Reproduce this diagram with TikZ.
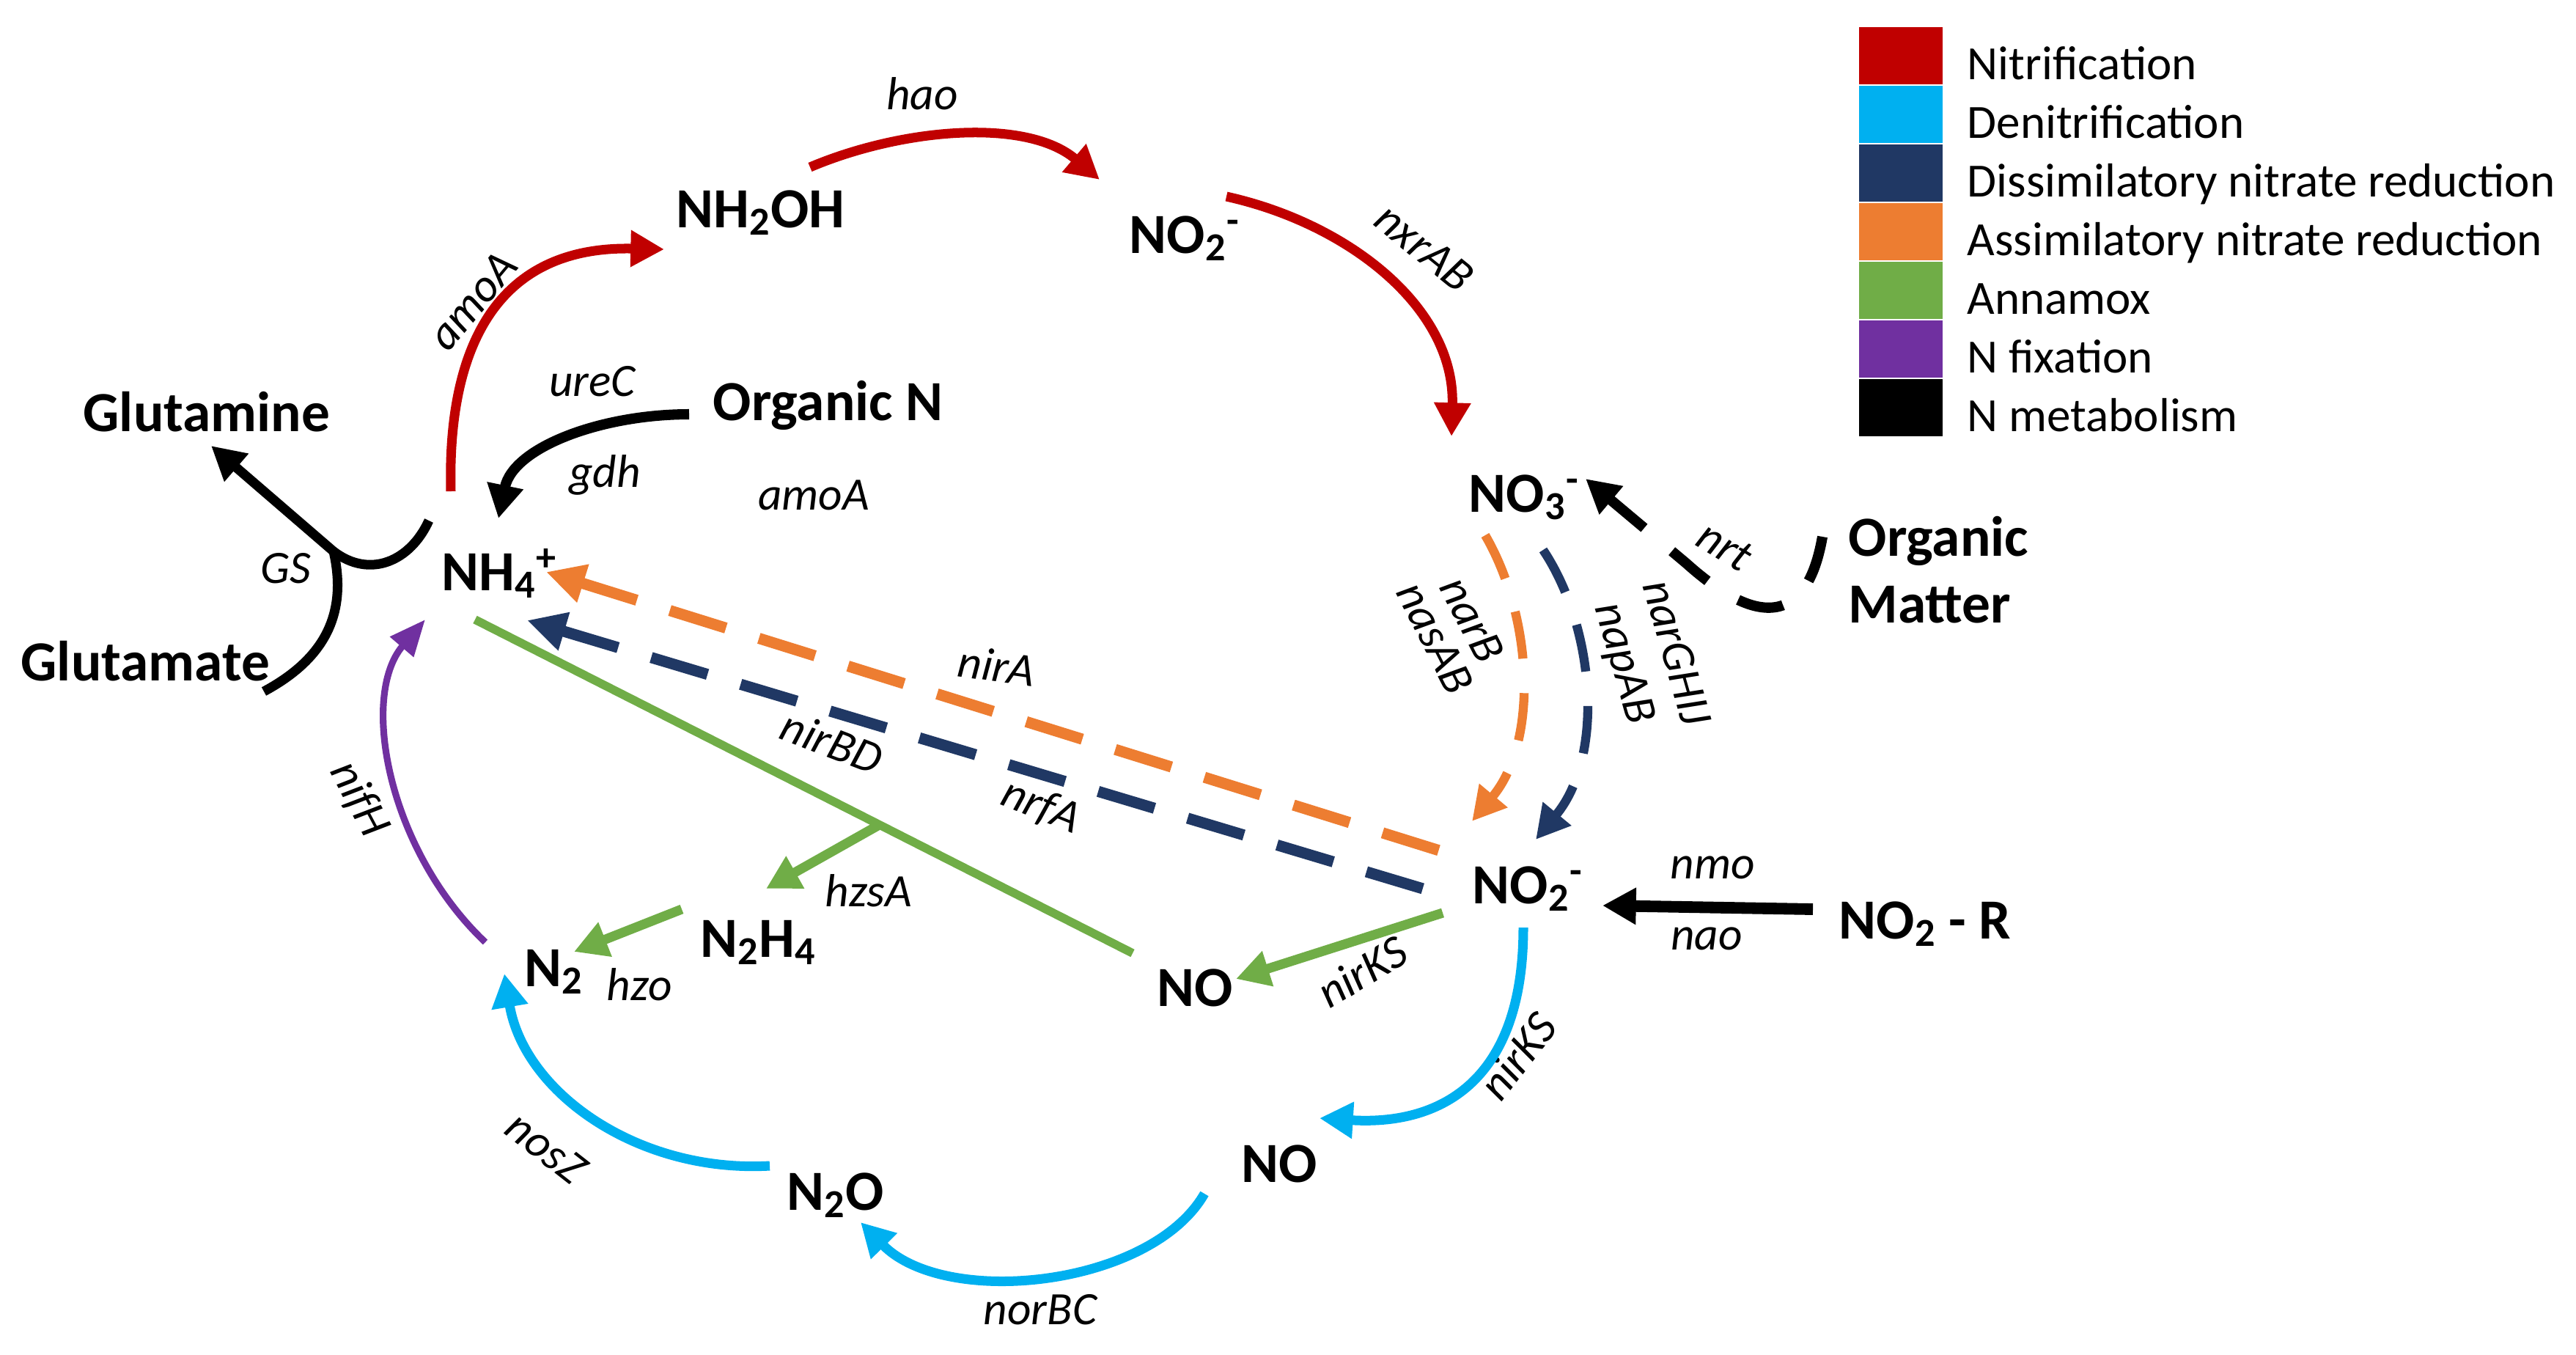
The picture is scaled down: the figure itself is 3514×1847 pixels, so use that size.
\documentclass[tikz,border=0pt]{standalone}
\usepackage{fontspec}
\setmainfont{Carlito}
\usetikzlibrary{arrows.meta}
\definecolor{nitri}{HTML}{C00000}
\definecolor{denitri}{HTML}{00B0F0}
\definecolor{dissim}{HTML}{203864}
\definecolor{assim}{HTML}{ED7D31}
\definecolor{anam}{HTML}{70AD47}
\definecolor{nfix}{HTML}{7030A0}
\colorlet{nmeta}{black}
\tikzset{
  species/.style={font=\fontsize{22pt}{26pt}\selectfont\bfseries,inner sep=0pt,anchor=base west},
  gene/.style={font=\fontsize{18pt}{21pt}\selectfont\itshape,inner sep=0pt},
  legtext/.style={font=\fontsize{18.5pt}{22pt}\selectfont,inner sep=0pt,anchor=base west},
  flow/.style={line width=3.7pt,->},
  dashflow/.style={line width=4.3pt,dash pattern=on 22.8pt off 13.4pt},
  arcflow/.style={line width=3.5pt,dash pattern=on 18.5pt off 13.4pt,->}
}
\begin{document}
\begin{tikzpicture}[x=0.01cm,y=-0.01cm,line join=round,>={Triangle[length=13pt,width=13.5pt]}]
\useasboundingbox (0,0) rectangle (3514,1847);
% compounds
\node[species] (nhoh) at (922,310) {NH\textsubscript{2}OH};
\node[species] (notop) at (1540,345) {NO\textsubscript{2}\textsuperscript{-}};
\node[species] (glutamine) at (113,588) {Glutamine};
\node[species] (orgn) at (972,573) {Organic N};
\node[species] (nh4) at (602,805) {NH\textsubscript{4}\textsuperscript{+}};
\node[species] (glutamate) at (28,928) {Glutamate};
\node[species] (no3) at (2003,698) {NO\textsubscript{3}\textsuperscript{-}};
\node[species,anchor=north west,align=left] (orgm) at (2521,703) {Organic\\Matter};
\node[species] (no2m) at (2008,1232) {NO\textsubscript{2}\textsuperscript{-}};
\node[species] (no2r) at (2508,1280) {NO\textsubscript{2} - R};
\node[species] (nog) at (1578,1372) {NO};
\node[species] (n2h4) at (955,1305) {N\textsubscript{2}H\textsubscript{4}};
\node[species] (n2) at (715,1345) {N\textsubscript{2}};
\node[species] (n2o) at (1073,1650) {N\textsubscript{2}O};
\node[species] (nob) at (1693,1612) {NO};
% genes
\node[gene] (hao) at (1258,128) {hao};
\node[gene,rotate=50] (amoa1) at (645,410) {amoA};
\node[gene] (urec) at (808,520) {ureC};
\node[gene] (gdh) at (825,648) {gdh};
\node[gene] (amoa2) at (1110,675) {amoA};
\node[gene] (gs) at (390,775) {GS};
\node[gene,rotate=-39] (nxrab) at (1943,338) {nxrAB};
\node[gene,rotate=-8] (nira) at (1360,908) {nirA};
\node[gene,rotate=-21] (nirbd) at (1135,1012) {nirBD};
\node[gene,rotate=-22] (nrfa) at (1420,1100) {nrfA};
\node[gene] (hzsa) at (1185,1215) {hzsA};
\node[gene] (hzo) at (872,1343) {hzo};
\node[gene,rotate=-62] (nifh) at (490,1090) {nifH};
\node[gene,rotate=-38] (nosz) at (745,1565) {nosZ};
\node[gene] (norbc) at (1419,1786) {norBC};
\node[gene,rotate=-63] (narb) at (2008,845) {narB};
\node[gene,rotate=-63] (nasab) at (1958,870) {nasAB};
\node[gene,rotate=-74] (narghij) at (2288,890) {narGHIJ};
\node[gene,rotate=-74] (napab) at (2213,905) {napAB};
\node[gene,rotate=-31] (nrt) at (2353,745) {nrt};
\node[gene] (nmo) at (2336,1183) {nmo};
\node[gene] (nao) at (2328,1280) {nao};
\node[gene,rotate=31] (nirks1) at (1858,1325) {nirKS};
\node[gene,rotate=52] (nirks2) at (2070,1440) {nirKS};
% nitrification
\draw[nitri,flow] ([shift={(13,-135)}]nh4.base west) .. controls (610,470) and (680,335) .. ([shift={(-16,30)}]nhoh.base west);
\draw[nitri,flow] ([shift={(183,-82)}]nhoh.base west) .. controls (1230,175) and (1400,160) .. ([shift={(-40,-100)}]notop.base west);
\draw[nitri,flow] ([shift={(133,-77)}]notop.base west) .. controls (1840,305) and (1985,420) .. ([shift={(-23,-103)}]no3.base west);
% N metabolism
\coordinate (gsj) at (455,752);
\draw[nmeta,line width=4pt,->] ([shift={(-32,-8)}]orgn.base west) .. controls (820,565) and (700,610) .. ([shift={(78,-98)}]nh4.base west);
\draw[nmeta,flow] ([shift={(-17,-95)}]nh4.base west) .. controls (560,765) and (505,790) .. (gsj) -- ([shift={(175,20)}]glutamine.base west);
\draw[nmeta,line width=3.7pt] ([shift={(332,15)}]glutamate.base west) .. controls (440,900) and (475,840) .. (gsj);
\draw[nmeta,line width=4pt,dash pattern=on 18pt off 14pt,->] ([shift={(-35,29)}]orgm.north west) .. controls (2462,870) and (2380,840) .. (2300,768) -- ([shift={(160,-45)}]no3.base west);
\draw[nmeta,line width=4.5pt,->] ([shift={(-35,-40)}]no2r.base west) -- ([shift={(178,3)}]no2m.base west);
% assimilatory and dissimilatory reduction
\draw[assim,dashflow,{Triangle[length=15pt,width=14.5pt]}-] ([shift={(143,-25)}]nh4.base west) -- ([shift={(-35,-69)}]no2m.base west);
\draw[dissim,dashflow,{Triangle[length=15pt,width=14.5pt]}-] ([shift={(117,41)}]nh4.base west) -- ([shift={(-57,-17)}]no2m.base west);
\draw[assim,arcflow] ([shift={(23,32)}]no3.base west) .. controls (2090,840) and (2100,1010) .. ([shift={(0,-112)}]no2m.base west);
\draw[dissim,arcflow] ([shift={(102,52)}]no3.base west) .. controls (2175,855) and (2190,1030) .. ([shift={(87,-87)}]no2m.base west);
% anammox
\draw[anam,line width=3.3pt] ([shift={(46,40)}]nh4.base west) -- coordinate[pos=0.615] (hzsj) ([shift={(-33,-72)}]nog.base west);
\draw[anam,flow] (hzsj) -- ([shift={(90,-93)}]n2h4.base west);
\draw[anam,flow] ([shift={(-25,-65)}]n2h4.base west) -- ([shift={(68,-47)}]n2.base west);
\draw[anam,flow] ([shift={(-40,13)}]no2m.base west) -- ([shift={(108,-37)}]nog.base west);
% N fixation
\draw[nfix,line width=2.6pt,-{Triangle[length=14pt,width=11.5pt]}] ([shift={(-53,-60)}]n2.base west) .. controls (530,1160) and (490,950) .. ([shift={(-22,40)}]nh4.base west);
% denitrification
\draw[denitri,flow] ([shift={(70,33)}]no2m.base west) .. controls (2078,1480) and (1960,1535) .. ([shift={(107,-87)}]nob.base west);
\draw[denitri,flow] ([shift={(-50,16)}]nob.base west) .. controls (1570,1755) and (1290,1785) .. ([shift={(101,17)}]n2o.base west);
\draw[denitri,flow] ([shift={(-23,-60)}]n2o.base west) .. controls (870,1600) and (715,1490) .. ([shift={(-27,-17)}]n2.base west);
% legend
\foreach \c/\t [count=\i from 0] in {nitri/Nitrification,denitri/Denitrification,dissim/Dissimilatory nitrate reduction,assim/Assimilatory nitrate reduction,anam/Annamox,nfix/N fixation,nmeta/N metabolism}{
  \fill[\c] (2536,{37+80*\i}) rectangle (2650,{115+80*\i});
  \node[legtext] (leg\i) at (2683,{108+80*\i}) {\t};
}
\end{tikzpicture}
\end{document}
